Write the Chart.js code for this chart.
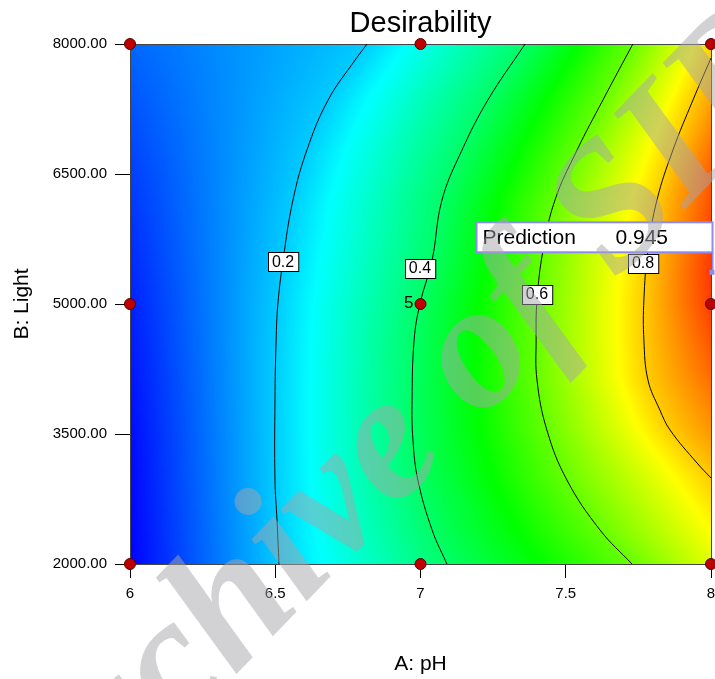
<!DOCTYPE html>
<html>
<head>
<meta charset="utf-8">
<script src="https://cdn.jsdelivr.net/npm/chart.js@4.4.1/dist/chart.umd.min.js"></script>
<style>
  html, body { margin: 0; padding: 0; background: #fff; }
</style>
</head>
<body>
<canvas id="desirabilityChart" width="715" height="679"></canvas>
<script>
// design points (A: pH, B: Light)
const designPH    = [6, 7, 8, 6, 7, 8, 6, 7, 8];
const designLight = [8000, 8000, 8000, 5000, 5000, 5000, 2000, 2000, 2000];
const centerRuns  = '5';

// contour lines
const contourLevels = [0.2, 0.4, 0.6, 0.8];
const contour02PH    = [6.816, 6.775, 6.682, 6.609, 6.561, 6.527, 6.509, 6.503, 6.499, 6.499, 6.506, 6.513];
const contour02Light = [8000, 7815, 7354, 6777, 6200, 5508, 5000, 4585, 3892, 2969, 2508, 2000];
const contour04PH    = [7.360, 7.232, 7.143, 7.074, 7.040, 6.998, 6.978, 6.971, 6.974, 6.991, 7.040, 7.091];
const contour04Light = [8000, 7354, 6777, 6200, 5508, 5000, 4585, 3892, 3431, 2969, 2392, 2000];
const contour06PH    = [7.731, 7.628, 7.539, 7.463, 7.422, 7.401, 7.398, 7.401, 7.435, 7.504, 7.618, 7.728];
const contour06Light = [8000, 7354, 6777, 6200, 5623, 5046, 4585, 4123, 3546, 2969, 2392, 2000];
const contour08PH    = [8.0, 7.938, 7.869, 7.814, 7.783, 7.769, 7.769, 7.783, 7.824, 7.859, 7.952, 8.0];
const contour08Light = [7838, 7354, 6777, 6200, 5623, 5046, 4585, 4123, 3777, 3546, 3165, 2992];

// where the contour labels sit
const labelPH    = [6.527, 6.998, 7.401, 7.766];
const labelLight = [5485, 5415, 5115, 5473];

// desirability along the left (pH 6) and right (pH 8) edges
const leftEdgeLight  = [2000, 3500, 5000, 6500, 8000];
const leftEdgeD      = [0.0, 0.01, 0.03, 0.06, 0.10];
const rightEdgeLight = [2000, 2992, 3500, 4250, 5000, 5360, 6500, 7838, 8000];
const rightEdgeD     = [0.72, 0.80, 0.85, 0.90, 0.94, 0.945, 0.91, 0.80, 0.79];

// prediction flag
const predictionPH = 8;
const predictionLight = 5360;
const predictionValue = '0.945';

const xTicks = [6, 6.5, 7, 7.5, 8];
const yTicks = [2000, 3500, 5000, 6500, 8000];

const FONT = '"Liberation Sans", Arial, sans-serif';

const contours = [
    { level: contourLevels[0], ph: contour02PH, light: contour02Light },
    { level: contourLevels[1], ph: contour04PH, light: contour04Light },
    { level: contourLevels[2], ph: contour06PH, light: contour06Light },
    { level: contourLevels[3], ph: contour08PH, light: contour08Light }
];

// blue -> cyan -> green -> yellow -> red
const COLOR_STOPS = [
    [0.00, [0, 0, 255]],
    [0.25, [0, 255, 255]],
    [0.50, [0, 255, 0]],
    [0.75, [255, 255, 0]],
    [1.00, [255, 0, 0]]
];

function colorFor(d) {
    d = Math.max(0, Math.min(1, d));
    for (let i = 0; i < COLOR_STOPS.length - 1; i++) {
        const [d0, c0] = COLOR_STOPS[i];
        const [d1, c1] = COLOR_STOPS[i + 1];
        if (d <= d1) {
            const t = (d - d0) / (d1 - d0);
            const c = c0.map((v, k) => Math.round(v + t * (c1[k] - v)));
            return `rgb(${c[0]},${c[1]},${c[2]})`;
        }
    }
    return 'rgb(255,0,0)';
}

function interp(xs, ys, v) {
    if (v <= xs[0]) return ys[0];
    for (let i = 1; i < xs.length; i++) {
        if (v <= xs[i]) {
            const t = (v - xs[i - 1]) / (xs[i] - xs[i - 1]);
            return ys[i - 1] + t * (ys[i] - ys[i - 1]);
        }
    }
    return ys[ys.length - 1];
}

// pH where a contour crosses the given light level (null if it doesn't)
function crossing(c, light) {
    for (let i = 1; i < c.light.length; i++) {
        const a = c.light[i - 1], b = c.light[i];
        if ((light - a) * (light - b) <= 0 && a !== b) {
            const t = (light - a) / (b - a);
            return c.ph[i - 1] + t * (c.ph[i] - c.ph[i - 1]);
        }
    }
    return null;
}

// paints the response surface row by row behind the datasets
const surfacePlugin = {
    id: 'surface',
    beforeDatasetsDraw(chart) {
        const { ctx, chartArea: a, scales: { x, y } } = chart;
        const w = a.right - a.left;
        ctx.save();
        for (let py = Math.floor(a.top); py < Math.ceil(a.bottom); py++) {
            const light = y.getValueForPixel(py + 0.5);
            const pts = [{ px: a.left, d: interp(leftEdgeLight, leftEdgeD, light) }];
            contours.forEach(c => {
                const ph = crossing(c, light);
                if (ph !== null) pts.push({ px: x.getPixelForValue(ph), d: c.level });
            });
            pts.push({ px: a.right, d: interp(rightEdgeLight, rightEdgeD, light) });
            pts.sort((p, q) => p.px - q.px);

            const g = ctx.createLinearGradient(a.left, 0, a.right, 0);
            const add = (px, d) => g.addColorStop(Math.max(0, Math.min(1, (px - a.left) / w)), colorFor(d));
            for (let i = 0; i < pts.length; i++) {
                add(pts[i].px, pts[i].d);
                if (i < pts.length - 1) {
                    const p = pts[i], q = pts[i + 1];
                    [0.25, 0.5, 0.75].forEach(k => {
                        if ((k - p.d) * (k - q.d) < 0) {
                            const t = (k - p.d) / (q.d - p.d);
                            add(p.px + t * (q.px - p.px), k);
                        }
                    });
                }
            }
            ctx.fillStyle = g;
            ctx.fillRect(a.left, py, w, 1);
        }
        ctx.strokeStyle = '#444';
        ctx.lineWidth = 1;
        ctx.strokeRect(a.left + 0.5, a.top + 0.5, w, a.bottom - a.top);
        ctx.restore();
    }
};

// contour labels, replicate count and the prediction flag
const annotationPlugin = {
    id: 'annotations',
    afterDatasetsDraw(chart) {
        const { ctx, scales: { x, y } } = chart;
        ctx.save();
        ctx.font = `16px ${FONT}`;
        ctx.textBaseline = 'middle';
        ctx.textAlign = 'center';
        contourLevels.forEach((lv, i) => {
            const cx = x.getPixelForValue(labelPH[i]);
            const cy = y.getPixelForValue(labelLight[i]);
            const txt = lv.toFixed(1);
            const bw = ctx.measureText(txt).width + 8;
            const bh = 19;
            ctx.fillStyle = '#fff';
            ctx.fillRect(Math.round(cx - bw / 2) + 0.5, Math.round(cy - bh / 2) + 0.5, bw, bh);
            ctx.strokeStyle = '#000';
            ctx.lineWidth = 1;
            ctx.strokeRect(Math.round(cx - bw / 2) + 0.5, Math.round(cy - bh / 2) + 0.5, bw, bh);
            ctx.fillStyle = '#000';
            ctx.fillText(txt, cx, cy + 1);
        });

        // replicate count next to the center point
        ctx.textAlign = 'right';
        ctx.font = `17px ${FONT}`;
        ctx.fillText(centerRuns, x.getPixelForValue(7) - 7, y.getPixelForValue(5000) - 1);

        // prediction flag
        const px = x.getPixelForValue(predictionPH);
        const py = y.getPixelForValue(predictionLight);
        const right = px + 1.5, bottom = py - 20.5;
        const left = right - 236, top = bottom - 30;
        ctx.strokeStyle = '#8c8cf0';
        ctx.lineWidth = 2;
        ctx.beginPath();
        ctx.moveTo(right, bottom);
        ctx.lineTo(right, py);
        ctx.stroke();
        ctx.fillStyle = '#8c8cf0';
        ctx.fillRect(right - 3, py - 3, 5, 5);
        ctx.fillStyle = '#fff';
        ctx.fillRect(left, top, right - left, bottom - top);
        ctx.strokeRect(left, top, right - left, bottom - top);
        ctx.fillStyle = '#000';
        ctx.textAlign = 'left';
        ctx.font = `21px ${FONT}`;
        ctx.fillText('Prediction', left + 6, (top + bottom) / 2 + 1);
        ctx.fillText(predictionValue, left + 139, (top + bottom) / 2 + 1);
        ctx.restore();
    },
    afterDraw(chart) {
        const { ctx, chartArea: a } = chart;
        ctx.save();
        // chart title, centred over the plot
        ctx.font = `29px ${FONT}`;
        ctx.fillStyle = '#000';
        ctx.textAlign = 'center';
        ctx.textBaseline = 'middle';
        ctx.fillText('Desirability', (a.left + a.right) / 2, 24);

        // watermark
        const size = 180;
        ctx.font = `bold italic ${size}px "Liberation Serif", "Times New Roman", serif`;
        ctx.fillStyle = 'rgba(165,165,172,0.5)';
        ctx.textAlign = 'left';
        ctx.textBaseline = 'alphabetic';
        ctx.translate(482, 360);
        ctx.rotate(-46 * Math.PI / 180);
        const pre = ctx.measureText('Archive ').width + ctx.measureText('o').width / 2;
        ctx.fillText('Archive of SID', -pre, size * 0.23);
        ctx.restore();
    }
};

const contourDatasets = contours.map(c => ({
    label: 'D = ' + c.level,
    data: c.ph.map((v, i) => ({ x: v, y: c.light[i] })),
    showLine: true,
    borderColor: '#000',
    borderWidth: 1,
    pointRadius: 0,
    tension: 0.4,
    fill: false
}));

new Chart(document.getElementById('desirabilityChart'), {
    type: 'scatter',
    data: {
        datasets: [{
            label: 'Design points',
            data: designPH.map((v, i) => ({ x: v, y: designLight[i] })),
            backgroundColor: '#c00000',
            borderColor: '#500000',
            borderWidth: 1,
            pointRadius: 5.5,
            clip: false
        }, ...contourDatasets]
    },
    options: {
        responsive: false,
        animation: false,
        layout: { autoPadding: false, padding: { top: 44, right: 4, left: 0, bottom: 0 } },
        plugins: {
            legend: { display: false },
            tooltip: { enabled: false },
            title: { display: false }
        },
        scales: {
            x: {
                type: 'linear',
                min: 6,
                max: 8,
                afterBuildTicks: s => { s.ticks = xTicks.map(v => ({ value: v })); },
                ticks: {
                    color: '#000',
                    font: { size: 15, family: FONT },
                    padding: 7,
                    callback: v => String(v)
                },
                grid: { drawOnChartArea: false, drawTicks: true, tickLength: 14, color: '#000' },
                border: { display: true, color: '#000' },
                title: {
                    display: true,
                    text: 'A: pH',
                    color: '#000',
                    font: { size: 21, family: FONT },
                    padding: { top: 0, bottom: 2 }
                },
                afterFit(scale) {
                    scale.height = 115;
                    scale.paddingLeft = 0;
                    scale.paddingRight = 0;
                }
            },
            y: {
                type: 'linear',
                min: 2000,
                max: 8000,
                afterBuildTicks: s => { s.ticks = yTicks.map(v => ({ value: v })); },
                ticks: {
                    color: '#000',
                    font: { size: 15, family: FONT },
                    padding: 8,
                    callback: v => Number(v).toFixed(2)
                },
                grid: { drawOnChartArea: false, drawTicks: true, tickLength: 15, color: '#000' },
                border: { display: true, color: '#444' },
                title: {
                    display: true,
                    text: 'B: Light',
                    color: '#000',
                    font: { size: 21, family: FONT },
                    padding: { top: 10, bottom: 0 }
                },
                afterFit(scale) {
                    scale.width = 130;
                    scale.paddingTop = 0;
                    scale.paddingBottom = 0;
                }
            }
        }
    },
    plugins: [surfacePlugin, annotationPlugin]
});
</script>
</body>
</html>
